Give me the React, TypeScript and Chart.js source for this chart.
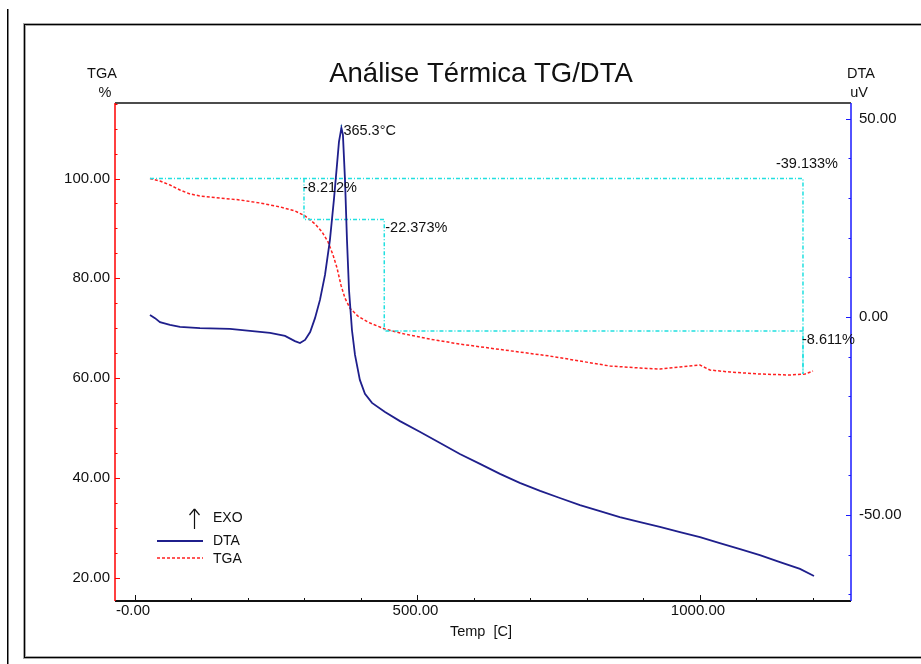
import { useEffect, useRef } from "react";
import { Chart, registerables } from "chart.js";

Chart.register(...registerables);

const FONT = '"Liberation Sans", Arial, sans-serif';

// DTA signal (uV) against temperature (°C)
const dtaTemp = [
  26.5, 35.4, 44.2, 61.9, 79.6, 115, 168, 203.5, 239, 265.5, 283, 292, 301, 310, 318.6, 327.4,
  336.3, 345, 352, 357.5, 361, 365.3, 368, 371.7, 375.2, 378.8, 384, 389.4, 398, 407, 419.5,
  442.5, 469, 504, 540, 575, 610.6, 646, 681, 717, 752, 787.6, 823, 858, 894, 929, 964.6, 1000,
  1035, 1071, 1106, 1141.6, 1177, 1201.8,
];
const dtaValue = [
  0.5, -0.3, -1.3, -2.0, -2.5, -2.8, -3.0, -3.5, -4.0, -4.8, -6.1, -6.6, -5.8, -3.8, -0.3, 4.3,
  10.6, 19.4, 29.5, 38.4, 44.2, 47.7, 46.0, 34.6, 19.4, 6.8, -3.3, -9.6, -15.9, -19.4, -21.7,
  -24.0, -26.3, -29.0, -31.8, -34.6, -37.1, -39.6, -41.9, -43.9, -45.7, -47.5, -49.0, -50.5,
  -51.8, -53.0, -54.3, -55.6, -57.1, -58.6, -60.1, -61.9, -63.6, -65.4,
];

// TGA residual mass (%) against temperature (°C)
const tgaTemp = [
  26.5, 44.2, 62, 79.6, 97.3, 115, 150, 186, 221, 257, 283, 301, 318.6, 331, 341.6, 350.4, 357.5,
  364.6, 371.7, 380.5, 394.7, 412.4, 442.5, 478, 522, 575, 628, 681, 734.5, 787.6, 841, 894, 929,
  964.6, 1000, 1017.7, 1053, 1106, 1159, 1186, 1200,
];
const tgaValue = [
  100.0, 99.5, 98.7, 97.7, 96.9, 96.5, 96.1, 95.7, 95.1, 94.3, 93.5, 92.5, 90.9, 89.3, 87.3, 84.7,
  82.1, 78.6, 76.0, 74.0, 72.4, 71.2, 69.8, 68.8, 67.8, 66.8, 66.0, 65.2, 64.4, 63.4, 62.4, 62.0,
  61.8, 62.2, 62.6, 61.6, 61.2, 60.8, 60.6, 60.8, 61.4,
];

// Mass-loss steps and DTA peak
const stepStartTemp = 26.5;
const stepTemps = [299.1, 441.2, 1182.3];
const stepLosses = [8.212, 22.373, 8.611];
const totalLoss = 39.133;
const peakTemp = 365.3;
const peakValue = 47.7;

// Axis ranges and ticks
const tempRange = [-35.4, 1267.3];
const tgaRange = [15.29, 115.14];
const dtaRange = [-71.7, 54.0];
const tempMajorTicks = [0, 500, 1000];
const tempTickLabels = ["-0.00", "500.00", "1000.00"];
const tempMinorStep = 100;
const tgaMajorTicks = [20, 40, 60, 80, 100];
const tgaTickLabels = ["20.00", "40.00", "60.00", "80.00", "100.00"];
const tgaMinorStep = 5;
const dtaMajorTicks = [-50, 0, 50];
const dtaTickLabels = ["-50.00", "0.00", "50.00"];
const dtaMinorStep = 10;

const DTA_COLOR = "#1f1f8c";
const TGA_COLOR = "#ff2020";
const STEP_COLOR = "#20e0e0";
const TEXT_COLOR = "#111111";

function line(ctx: CanvasRenderingContext2D, x1: number, y1: number, x2: number, y2: number) {
  ctx.beginPath();
  ctx.moveTo(x1, y1);
  ctx.lineTo(x2, y2);
  ctx.stroke();
}

const thermalPlugin = {
  id: "thermalLayout",
  beforeDraw(chart: any) {
    const { ctx, width, height } = chart;
    ctx.save();
    ctx.fillStyle = "#ffffff";
    ctx.fillRect(0, 0, width, height);
    // panel frame
    ctx.fillStyle = "#000";
    ctx.fillRect(7, 9, 1.5, height - 9);
    ctx.fillStyle = "#a6a6a6";
    ctx.fillRect(23, 23, width, 1);
    ctx.fillRect(23, 23, 1, 636);
    ctx.fillRect(25, 25, width, 1);
    ctx.fillRect(25, 25, 1, 632);
    ctx.fillRect(23, 658, width, 1);
    ctx.fillRect(25, 656, width, 1);
    ctx.fillStyle = "#000";
    ctx.fillRect(24, 24, width, 1);
    ctx.fillRect(24, 24, 1, 634);
    ctx.fillRect(24, 657, width, 1);
    ctx.restore();
  },
  afterDatasetsDraw(chart: any) {
    const { ctx, chartArea: a, scales } = chart;
    const xs = scales.x;
    const yt = scales.yTga;
    const yd = scales.yDta;
    ctx.save();

    // plot borders
    ctx.strokeStyle = "#111";
    ctx.lineWidth = 1.5;
    line(ctx, a.left, a.top, a.right, a.top);
    ctx.lineWidth = 2;
    line(ctx, a.left, a.bottom, a.right, a.bottom);

    // temperature ticks (inward)
    ctx.lineWidth = 1;
    for (let v = Math.ceil(xs.min / tempMinorStep) * tempMinorStep; v <= xs.max; v += tempMinorStep) {
      const px = Math.round(xs.getPixelForValue(v)) + 0.5;
      const len = tempMajorTicks.includes(v) ? 6 : 3;
      line(ctx, px, a.bottom, px, a.bottom - len);
    }

    // TGA axis
    ctx.strokeStyle = "#ff0000";
    ctx.lineWidth = 1.5;
    line(ctx, a.left, a.top, a.left, a.bottom);
    ctx.lineWidth = 1;
    for (let v = Math.ceil(yt.min / tgaMinorStep) * tgaMinorStep; v <= yt.max; v += tgaMinorStep) {
      const py = Math.round(yt.getPixelForValue(v)) + 0.5;
      const len = tgaMajorTicks.includes(v) ? 5 : 2.5;
      line(ctx, a.left, py, a.left + len, py);
    }

    // DTA axis
    ctx.strokeStyle = "#1a1aff";
    ctx.lineWidth = 1.5;
    line(ctx, a.right, a.top, a.right, a.bottom);
    ctx.lineWidth = 1;
    for (let v = Math.ceil(dtaRange[0] / dtaMinorStep) * dtaMinorStep; v <= yd.max; v += dtaMinorStep) {
      const py = Math.round(yd.getPixelForValue(v)) + 0.5;
      const len = dtaMajorTicks.includes(v) ? 5 : 2.5;
      line(ctx, a.right, py, a.right - len, py);
    }

    // tick labels
    ctx.fillStyle = TEXT_COLOR;
    ctx.font = `15px ${FONT}`;
    ctx.textBaseline = "middle";
    ctx.textAlign = "center";
    tempMajorTicks.forEach((v, i) => {
      ctx.fillText(tempTickLabels[i], xs.getPixelForValue(v) - 2, a.bottom + 10);
    });
    ctx.textAlign = "right";
    tgaMajorTicks.forEach((v, i) => {
      ctx.fillText(tgaTickLabels[i], a.left - 5, yt.getPixelForValue(v));
    });
    ctx.textAlign = "left";
    dtaMajorTicks.forEach((v, i) => {
      ctx.fillText(dtaTickLabels[i], a.right + 8, yd.getPixelForValue(v));
    });

    // axis titles
    ctx.textAlign = "center";
    ctx.font = `14.5px ${FONT}`;
    ctx.fillText("Temp  [C]", (a.left + a.right) / 2 - 2, a.bottom + 31);
    ctx.fillText("TGA", a.left - 13, 74);
    ctx.fillText("%", a.left - 10, 93);
    ctx.fillText("DTA", a.right + 10, 74);
    ctx.fillText("uV", a.right + 8, 93);

    // title
    ctx.font = `27.5px ${FONT}`;
    ctx.fillText("Análise Térmica TG/DTA", (a.left + a.right) / 2 - 2, 74);

    // step annotations
    ctx.font = `14.5px ${FONT}`;
    ctx.textAlign = "left";
    const level1 = 100 - stepLosses[0];
    const level2 = level1 - stepLosses[1];
    ctx.fillText(`-${stepLosses[0].toFixed(3)}%`, xs.getPixelForValue(stepTemps[0]) - 1, yt.getPixelForValue(100) + 9);
    ctx.fillText(`-${stepLosses[1].toFixed(3)}%`, xs.getPixelForValue(stepTemps[1]) + 1, yt.getPixelForValue(level1) + 9);
    ctx.fillText(`-${stepLosses[2].toFixed(3)}%`, xs.getPixelForValue(stepTemps[2]) - 1, yt.getPixelForValue(level2) + 9);
    ctx.textAlign = "center";
    ctx.fillText(`-${totalLoss.toFixed(3)}%`, xs.getPixelForValue(stepTemps[2]) + 4, yt.getPixelForValue(100) - 15);
    ctx.textAlign = "left";
    ctx.fillText(`${peakTemp.toFixed(1)}°C`, xs.getPixelForValue(peakTemp) + 2, yd.getPixelForValue(peakValue) + 3);

    // legend
    ctx.strokeStyle = "#111";
    ctx.lineWidth = 1.2;
    line(ctx, 194.5, 529, 194.5, 509);
    line(ctx, 194.5, 509, 189.5, 515);
    line(ctx, 194.5, 509, 199.5, 515);
    ctx.strokeStyle = DTA_COLOR;
    ctx.lineWidth = 1.8;
    line(ctx, 157, 541, 203, 541);
    ctx.strokeStyle = TGA_COLOR;
    ctx.lineWidth = 1.5;
    ctx.setLineDash([3, 2]);
    line(ctx, 157, 558, 203, 558);
    ctx.setLineDash([]);
    ctx.font = `14px ${FONT}`;
    ctx.fillText("EXO", 213, 518);
    ctx.fillText("DTA", 213, 541);
    ctx.fillText("TGA", 213, 559);

    ctx.restore();
  },
};

export default function App() {
  const canvasRef = useRef<HTMLCanvasElement | null>(null);

  useEffect(() => {
    const canvas = canvasRef.current;
    if (!canvas) return;

    const dtaPoints = dtaTemp.map((t, i) => ({ x: t, y: dtaValue[i] }));
    const tgaPoints = tgaTemp.map((t, i) => ({ x: t, y: tgaValue[i] }));
    const level1 = 100 - stepLosses[0];
    const level2 = level1 - stepLosses[1];
    const level3 = level2 - stepLosses[2];
    const stepPath = [
      { x: stepTemps[0], y: 100 },
      { x: stepTemps[0], y: level1 },
      { x: stepTemps[1], y: level1 },
      { x: stepTemps[1], y: level2 },
      { x: stepTemps[2], y: level2 },
      { x: stepTemps[2], y: level3 },
    ];
    const totalPath = [
      { x: stepStartTemp, y: 100 },
      { x: stepTemps[2], y: 100 },
      { x: stepTemps[2], y: 100 - totalLoss },
    ];
    const peakMark = [
      { x: peakTemp, y: peakValue - 1 },
      { x: peakTemp, y: peakValue + 1 },
    ];

    const stepStyle = {
      borderColor: STEP_COLOR,
      borderWidth: 1.5,
      borderDash: [4, 2, 1, 2],
      pointRadius: 0,
      tension: 0,
      fill: false,
    };

    const chart = new Chart(canvas, {
      type: "line",
      data: {
        datasets: [
          {
            label: "DTA",
            data: dtaPoints,
            yAxisID: "yDta",
            borderColor: DTA_COLOR,
            borderWidth: 1.8,
            pointRadius: 0,
            tension: 0,
            order: 0,
          },
          {
            label: "TGA",
            data: tgaPoints,
            yAxisID: "yTga",
            borderColor: TGA_COLOR,
            borderWidth: 1.5,
            borderDash: [3, 2],
            pointRadius: 0,
            tension: 0,
            order: 2,
          },
          { label: "steps", data: stepPath, yAxisID: "yTga", order: 1, ...stepStyle },
          { label: "total", data: totalPath, yAxisID: "yTga", order: 1, ...stepStyle },
          { label: "peak", data: peakMark, yAxisID: "yDta", order: 1, ...stepStyle },
        ],
      },
      options: {
        responsive: false,
        animation: false,
        devicePixelRatio: 1,
        layout: { padding: { left: 115, top: 103, right: 70, bottom: 63 } },
        plugins: { legend: { display: false }, tooltip: { enabled: false }, title: { display: false } },
        scales: {
          x: { type: "linear", min: tempRange[0], max: tempRange[1], display: false },
          yTga: { type: "linear", position: "left", min: tgaRange[0], max: tgaRange[1], display: false },
          yDta: { type: "linear", position: "right", min: dtaRange[0], max: dtaRange[1], display: false },
        },
      },
      plugins: [thermalPlugin],
    } as any);

    return () => chart.destroy();
  }, []);

  return (
    <div style={{ position: "absolute", left: 0, top: 0, width: 921, height: 664 }}>
      <canvas ref={canvasRef} width={921} height={664} style={{ display: "block", width: 921, height: 664 }} />
    </div>
  );
}
